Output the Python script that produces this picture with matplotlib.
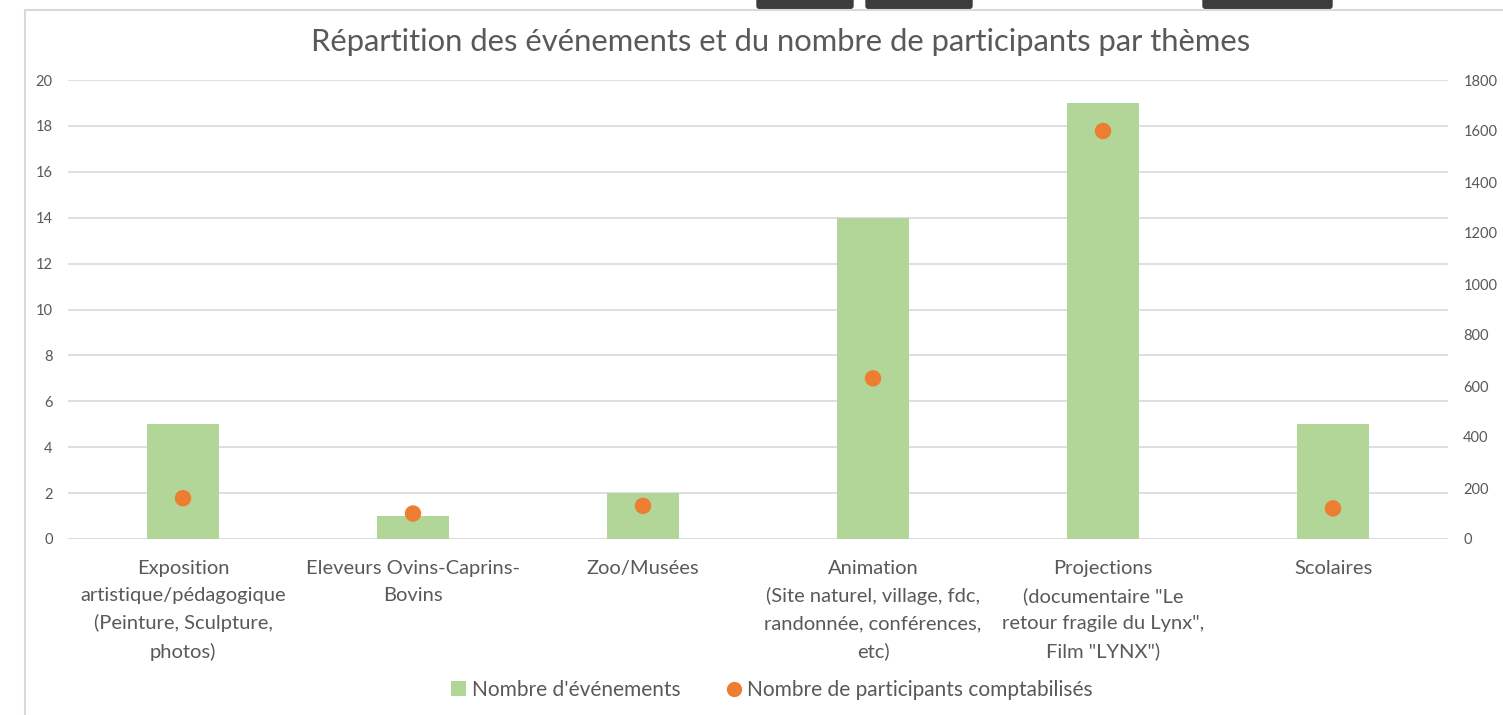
import matplotlib
matplotlib.use("Agg")
import matplotlib.pyplot as plt
from matplotlib.patches import FancyBboxPatch
from matplotlib.lines import Line2D
from matplotlib.patches import Patch

categories = [
    "Exposition\nartistique/pédagogique\n(Peinture, Sculpture,\nphotos)",
    "Eleveurs Ovins-Caprins-\nBovins",
    "Zoo/Musées",
    "Animation\n(Site naturel, village, fdc,\nrandonnée, conférences,\netc)",
    "Projections\n(documentaire \"Le\nretour fragile du Lynx\",\nFilm \"LYNX\")",
    "Scolaires",
]
nb_evenements = [5, 1, 2, 14, 19, 5]
nb_participants = [160, 100, 130, 630, 1600, 120]
left_ticks = [0, 2, 4, 6, 8, 10, 12, 14, 16, 18, 20]
right_ticks = [0, 200, 400, 600, 800, 1000, 1200, 1400, 1600, 1800]

plt.rcParams['font.family'] = ['Lato', 'DejaVu Sans']
TXT = '#595959'
GREEN = '#b2d698'
ORANGE = '#ed7d31'

W, H = 1503, 715
fig = plt.figure(figsize=(W/100, H/100), dpi=100)

# frame borders of the screenshot
fig.add_artist(Line2D([25/W, 1], [1-10/H, 1-10/H], color='#d9d9d9', lw=1.5))
fig.add_artist(Line2D([25/W, 25/W], [0, 1-10/H], color='#d9d9d9', lw=1.5))
for x0, x1 in [(757, 853), (866, 972), (1203, 1332)]:
    fig.add_artist(FancyBboxPatch((x0/W, 1-9/H), (x1-x0)/W, 12/H,
                                  boxstyle="round,pad=0,rounding_size=0.004",
                                  transform=fig.transFigure, color='#3c3c3c', clip_on=False))

ax = fig.add_axes([68/W, 1-539/H, (1448-68)/W, (539-80)/H])
x = list(range(len(categories)))
ax.bar(x, nb_evenements, width=0.31, color=GREEN, zorder=2)
ax.set_xlim(-0.5, len(categories)-0.5)
ax.set_ylim(0, 20)
ax.set_yticks(left_ticks)
ax.set_yticklabels([str(t) for t in left_ticks])
ax.set_xticks(x)
ax.set_xticklabels(categories, fontsize=14.5, color=TXT, linespacing=1.7)
ax.tick_params(axis='x', length=0, pad=15)
ax.tick_params(axis='y', length=0, pad=11, labelsize=10.5, labelcolor=TXT)
ax.grid(axis='y', color='#d9d9d9', lw=1.2, zorder=0)
for s in ax.spines.values():
    s.set_visible(False)
ax.axhline(0, color='#d9d9d9', lw=1.2, zorder=1)

ax2 = ax.twinx()
ax2.scatter(x, nb_participants, s=140, color=ORANGE, zorder=3, edgecolors='none')
ax2.set_ylim(0, 1800)
ax2.set_yticks(right_ticks)
ax2.set_yticklabels([str(t) for t in right_ticks])
ax2.tick_params(axis='y', length=0, pad=11, labelsize=10.5, labelcolor=TXT)
for s in ax2.spines.values():
    s.set_visible(False)

fig.text(781/W, 1-42/H, "Répartition des événements et du nombre de participants par thèmes",
         ha='center', va='center', fontsize=22.3, color=TXT)

handles = [Patch(facecolor=GREEN, edgecolor='none', label="Nombre d'événements"),
           Line2D([], [], marker='o', ls='none', markersize=10, color=ORANGE,
                  label="Nombre de participants comptabilisés")]
fig.legend(handles=handles, loc='center', bbox_to_anchor=(772/W, 1-690/H), ncol=2,
           frameon=False, fontsize=15, labelcolor=TXT, handlelength=0.7, handletextpad=0.3,
           columnspacing=2.2, handleheight=0.7)

fig.savefig("out.png", dpi=100)
